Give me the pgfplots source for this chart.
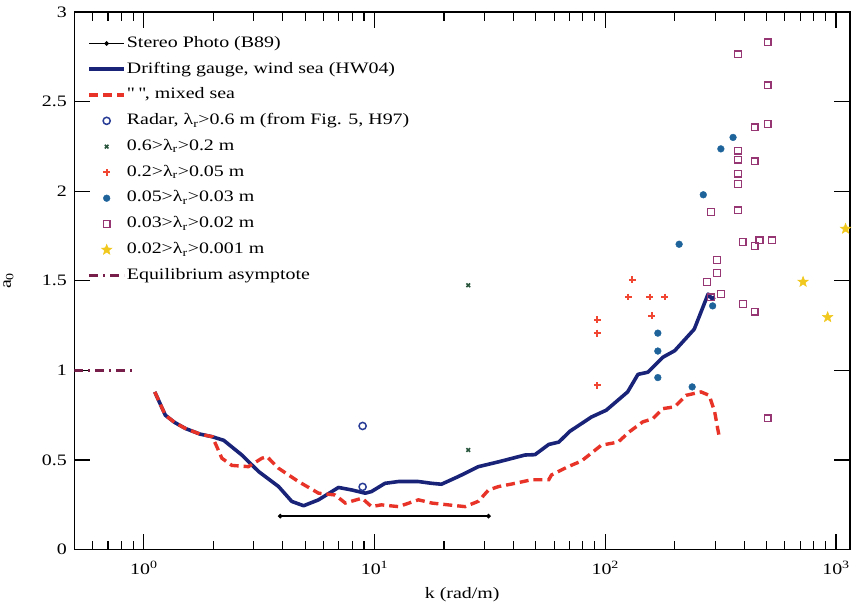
\documentclass[border=0pt]{standalone}
\usepackage{fontspec}
\setmainfont{Liberation Serif}[FakeStretch=1.25]
\usepackage{pgfplots}
\pgfplotsset{compat=1.18}
\definecolor{navyline}{RGB}{25,35,120}
\definecolor{redline}{RGB}{232,52,40}
\definecolor{radarc}{RGB}{40,60,150}
\definecolor{greenx}{RGB}{40,85,60}
\definecolor{redplus}{RGB}{240,70,50}
\definecolor{bluedot}{RGB}{30,100,155}
\definecolor{purplesq}{RGB}{150,55,115}
\definecolor{goldstar}{RGB}{240,200,30}
\definecolor{equil}{RGB}{120,30,75}
\pgfdeclareplotmark{fstar}{%
  \pgfpathmoveto{\pgfpointpolar{90}{\pgfplotmarksize}}%
  \pgfpathlineto{\pgfpointpolar{126}{0.42\pgfplotmarksize}}%
  \pgfpathlineto{\pgfpointpolar{162}{\pgfplotmarksize}}%
  \pgfpathlineto{\pgfpointpolar{198}{0.42\pgfplotmarksize}}%
  \pgfpathlineto{\pgfpointpolar{234}{\pgfplotmarksize}}%
  \pgfpathlineto{\pgfpointpolar{270}{0.42\pgfplotmarksize}}%
  \pgfpathlineto{\pgfpointpolar{306}{\pgfplotmarksize}}%
  \pgfpathlineto{\pgfpointpolar{342}{0.42\pgfplotmarksize}}%
  \pgfpathlineto{\pgfpointpolar{18}{\pgfplotmarksize}}%
  \pgfpathlineto{\pgfpointpolar{54}{0.42\pgfplotmarksize}}%
  \pgfpathclose\pgfusepathqfillstroke}
\pgfplotsset{mylegimg/.style={legend image code/.code={%
  \draw[mark repeat=2,mark phase=2,##1] plot coordinates {(0bp,0bp) (17.5bp,0bp) (35bp,0bp)};}}}
\begin{document}
\begin{tikzpicture}[font=\fontsize{16bp}{19bp}\selectfont]
\begin{axis}[
  xmode=log, scale only axis, width=779bp, height=540bp,
  xmin=0.5, xmax=1150, ymin=0, ymax=3,
  xtick={1,10,100,1000},
  xticklabels={10\textsuperscript{0},10\textsuperscript{1},10\textsuperscript{2},10\textsuperscript{3}},
  minor xtick={0.6,0.7,0.8,0.9,2,3,4,5,6,7,8,9,20,30,40,50,60,70,80,90,200,300,400,500,600,700,800,900},
  ytick={0,0.5,1,1.5,2,2.5,3},
  yticklabels={0,0.5,1,1.5,2,2.5,3},
  major tick length=16bp, minor tick length=9bp,
  tick align=inside,
  every tick/.style={black, line width=1.1bp},
  axis line style={black, line width=1.2bp},
  /pgf/number format/assume math mode=true,
  xticklabel style={yshift=-8bp},
  yticklabel style={xshift=-4bp},
  xlabel={k (rad/m)},
  ylabel={a\textsubscript{0}},
  xlabel style={at={(axis description cs:0.5,-0.083)}, anchor=center},
  ylabel style={at={(axis description cs:-0.085,0.5)}, anchor=center},
  legend style={at={(axis description cs:0.0167,0.957)}, anchor=north west,
    draw=none, fill=none, inner sep=0pt, row sep=9.4bp,
    nodes={inner sep=1bp, text height=11bp, text depth=3.5bp},
    legend cell align=left},
]
\addplot[black, line width=1.3bp, mark=*, mark size=1.6bp, mylegimg] coordinates {(3.9,0.187) (31.2,0.187)};
\addlegendentry{Stereo Photo (B89)}
\addplot[navyline, line width=3.6bp, line join=round, mylegimg] coordinates {
(1.116,0.88)(1.24,0.75)(1.36,0.71)(1.515,0.676)(1.75,0.645)(1.98,0.63)(2.22,0.61)(2.66,0.528)(3.15,0.435)(3.84,0.352)(4.38,0.269)(4.93,0.245)(5.72,0.278)(6.98,0.347)(7.97,0.333)(9.11,0.315)(9.7,0.324)(11.1,0.37)(12.7,0.38)(15.5,0.38)(17.7,0.37)(19.5,0.365)(23.1,0.408)(28.2,0.463)(34.5,0.49)(44.9,0.528)(49.6,0.53)(56.9,0.587)(62.9,0.60)(70.2,0.66)(87.1,0.74)(101,0.778)(125,0.88)(138.6,0.978)(153,0.99)(178,1.074)(200,1.11)(243,1.23)(279,1.426)(290,1.40)(298,1.41)};
\addlegendentry{Drifting gauge, wind sea (HW04)}
\addplot[redline, line width=3.4bp, dash pattern=on 9bp off 5bp, mylegimg] coordinates {
(1.116,0.88)(1.24,0.75)(1.36,0.71)(1.515,0.676)(1.75,0.645)(1.98,0.63)(2.07,0.576)(2.18,0.51)(2.41,0.47)(2.84,0.463)(3.25,0.51)(3.42,0.519)(3.84,0.454)(4.68,0.38)(5.72,0.315)(6.75,0.305)(7.47,0.26)(8.83,0.287)(9.7,0.24)(10.7,0.25)(12.7,0.24)(15.5,0.278)(17.7,0.26)(20.8,0.25)(24.7,0.24)(28.2,0.27)(31.2,0.333)(34.5,0.352)(40.7,0.37)(47.9,0.39)(56.9,0.39)(58.5,0.417)(69,0.463)(78.8,0.494)(96.2,0.583)(113.7,0.60)(127,0.657)(145.5,0.713)(160.6,0.73)(178,0.787)(200,0.797)(224,0.861)(260,0.88)(282,0.861)(298,0.769)(307,0.676)(312,0.63)};
\addlegendentry{\textquotedbl\ \textquotedbl, mixed sea}
\addplot[only marks, radarc, mark=o, mark size=3.6bp, line width=1.5bp, mylegimg] coordinates {(8.88,0.69)(8.88,0.35)};
\addlegendentry{Radar, λ\textsubscript{r}>0.6 m (from Fig. 5, H97)}
\addplot[only marks, greenx, mark=x, mark size=2.6bp, line width=1.6bp, mylegimg] coordinates {(25.5,1.475)(25.5,0.556)};
\addlegendentry{0.6>λ\textsubscript{r}>0.2 m}
\addplot[only marks, redplus, mark=+, mark size=3.4bp, line width=1.9bp, mylegimg] coordinates {(92.3,1.283)(92.3,1.208)(92.3,0.917)(131,1.506)(126,1.41)(155.6,1.41)(181,1.41)(159,1.306)};
\addlegendentry{0.2>λ\textsubscript{r}>0.05 m}
\addplot[only marks, bluedot, mark=*, mark size=3.4bp, mylegimg] coordinates {(169,1.208)(169,1.108)(169,0.96)(238,0.908)(292,1.36)(358,2.30)(317,2.236)(266,1.98)(209,1.704)};
\addlegendentry{0.05>λ\textsubscript{r}>0.03 m}
\addplot[only marks, purplesq, mark=square, mark size=3.4bp, line width=1.3bp, mylegimg] coordinates {(505,2.83)(376,2.763)(505,2.59)(505,2.374)(444,2.356)(376,2.226)(376,2.176)(444,2.167)(376,2.098)(376,2.04)(376,1.893)(287,1.883)(394,1.717)(444,1.694)(466,1.726)(527,1.726)(305,1.615)(305,1.543)(276,1.494)(317,1.426)(287,1.408)(396,1.37)(444,1.328)(505,0.732)};
\addlegendentry{0.03>λ\textsubscript{r}>0.02 m}
\addplot[only marks, goldstar, mark=fstar, mark size=5.5bp, line width=0.5bp, mylegimg] coordinates {(1100,1.79)(720,1.494)(920,1.297)};
\addlegendentry{0.02>λ\textsubscript{r}>0.001 m}
\addplot[equil, line width=3bp, dash pattern=on 9bp off 5bp on 2bp off 5bp, mylegimg] coordinates {(0.5,1)(0.92,1)};
\addlegendentry{Equilibrium asymptote}
\end{axis}
\path (current axis.north west) ++(0,12bp) coordinate (padtop);
\end{tikzpicture}
\end{document}
